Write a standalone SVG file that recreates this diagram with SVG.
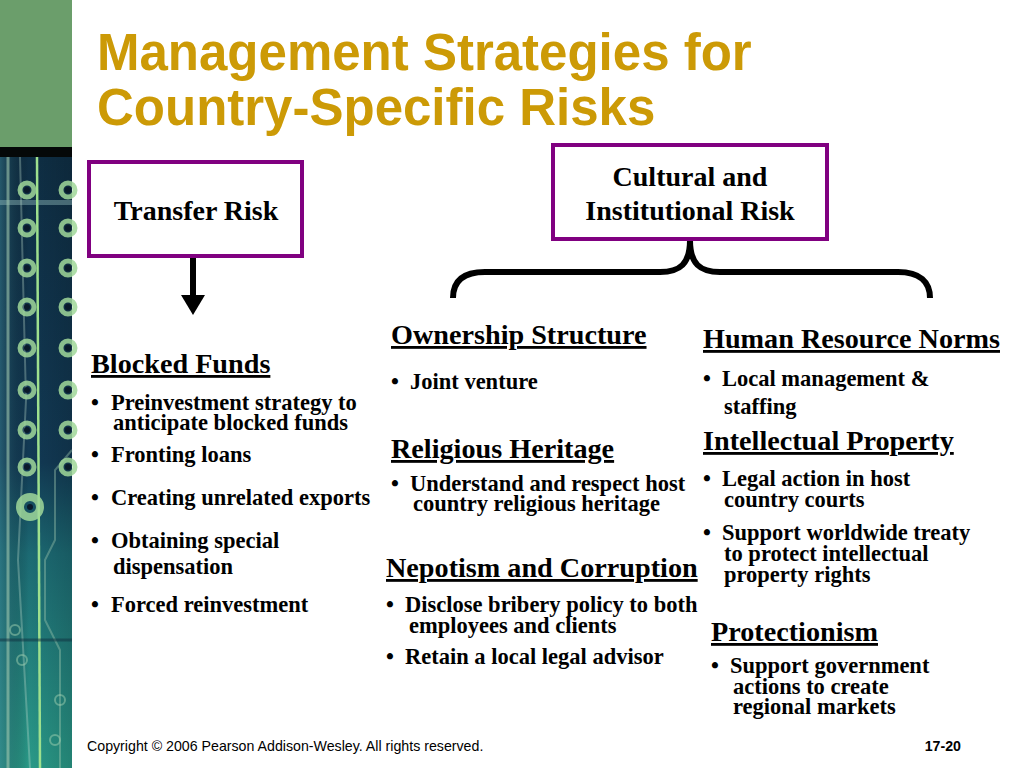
<svg xmlns="http://www.w3.org/2000/svg" width="1024" height="768" viewBox="0 0 1024 768">
<defs>
<linearGradient id="strip" x1="0" y1="0" x2="0" y2="1">
<stop offset="0" stop-color="#0f2f45"/>
<stop offset="0.5" stop-color="#123a55"/>
<stop offset="0.65" stop-color="#1c6a73"/>
<stop offset="1" stop-color="#2a9a88"/>
</linearGradient>
<linearGradient id="stripH" x1="0" y1="0" x2="1" y2="0">
<stop offset="0" stop-color="#3a7f8f" stop-opacity="0.5"/>
<stop offset="0.4" stop-color="#000" stop-opacity="0"/>
<stop offset="1" stop-color="#000" stop-opacity="0.15"/>
</linearGradient>
</defs>
<style>
.title{font-family:"Liberation Sans",Arial,sans-serif;font-weight:bold;font-size:51px;fill:#CC9A06}
.box{fill:#fff;stroke:#800080;stroke-width:4}
.lbl{font-family:"Liberation Serif","Times New Roman",serif;font-weight:bold;font-size:28px;fill:#000}
.hd{font-family:"Liberation Serif","Times New Roman",serif;font-weight:bold;font-size:28.2px;fill:#000;text-decoration:underline}
.bt{font-family:"Liberation Serif","Times New Roman",serif;font-weight:bold;font-size:22.5px;fill:#000}
.ft{font-family:"Liberation Sans",Arial,sans-serif;font-size:14.2px;fill:#000}
.ring{fill:none;stroke:#a0d89a;stroke-width:5;opacity:0.85}
.hole{fill:#0a1a2a}
.conn{fill:none;stroke:#000;stroke-width:6}
</style>
<rect width="1024" height="768" fill="#fff"/>
<!-- left decorative strip -->
<g id="strip-deco">
<rect x="0" y="0" width="72" height="148" fill="#6B9E6B"/>
<rect x="0" y="147" width="72" height="10" fill="#050808"/>
<rect x="0" y="157" width="72" height="611" fill="url(#strip)"/>
<rect x="0" y="157" width="72" height="611" fill="url(#stripH)"/>
<rect x="0" y="200" width="72" height="5" fill="#8fb8b8" opacity="0.45"/>
<line x1="8" y1="157" x2="8" y2="768" stroke="#9fc8b0" stroke-width="3" opacity="0.6"/>
<line x1="37" y1="157" x2="40" y2="768" stroke="#9ee08e" stroke-width="2.5"/>
<path d="M20 157 L26 400 L18 560 L30 768" stroke="#b8d8c8" stroke-width="2" fill="none" opacity="0.35"/>
<path d="M72 450 L55 470 L55 540 L45 560 L45 620 L60 650 L60 768" stroke="#a0c8b0" stroke-width="2" fill="none" opacity="0.4"/>
<path d="M0 640 L72 640" stroke="#103040" stroke-width="3" opacity="0.5"/>
<g class="ring">
<circle cx="27" cy="190" r="7"/><circle cx="68" cy="190" r="7"/>
<circle cx="27" cy="228" r="7"/><circle cx="68" cy="228" r="7"/>
<circle cx="27" cy="268" r="7"/><circle cx="68" cy="268" r="7"/>
<circle cx="27" cy="307" r="7"/><circle cx="68" cy="307" r="7"/>
<circle cx="27" cy="348" r="7"/><circle cx="68" cy="348" r="7"/>
<circle cx="27" cy="390" r="7"/><circle cx="68" cy="390" r="7"/>
<circle cx="27" cy="430" r="7"/><circle cx="68" cy="430" r="7"/>
<circle cx="27" cy="467" r="7"/><circle cx="68" cy="467" r="7"/>
<circle cx="30" cy="507" r="10" stroke-width="8"/>
</g>
<g class="hole">
<circle cx="27" cy="190" r="3"/><circle cx="68" cy="190" r="3"/>
<circle cx="27" cy="228" r="3"/><circle cx="68" cy="228" r="3"/>
<circle cx="27" cy="268" r="3"/><circle cx="68" cy="268" r="3"/>
<circle cx="27" cy="307" r="3"/><circle cx="68" cy="307" r="3"/>
<circle cx="27" cy="348" r="3"/><circle cx="68" cy="348" r="3"/>
<circle cx="27" cy="390" r="3"/><circle cx="68" cy="390" r="3"/>
<circle cx="27" cy="430" r="3"/><circle cx="68" cy="430" r="3"/>
<circle cx="27" cy="467" r="3"/><circle cx="68" cy="467" r="3"/>
<circle cx="30" cy="507" r="3"/>
</g>
<g fill="none" stroke="#9fd0b0" stroke-width="2" opacity="0.5">
<circle cx="15" cy="630" r="5"/><circle cx="22" cy="660" r="5"/><circle cx="60" cy="700" r="5"/><circle cx="55" cy="740" r="5"/>
</g>
</g>
<!-- title -->
<g id="title">
<text class="title" x="97" y="70">Management Strategies for</text>
<text class="title" x="97" y="125">Country-Specific Risks</text>
</g>
<!-- connectors -->
<g id="connectors">
<line x1="193" y1="256" x2="193" y2="298" stroke="#000" stroke-width="6"/>
<polygon points="181,295 205,295 193,315" fill="#000"/>
<path class="conn" d="M453 298 C453 282 462 272 485 272 L660 272 C680 272 690 264 690 240 C690 264 700 272 720 272 L898 272 C920 272 930 282 930 298"/>
</g>
<!-- nodes -->
<g id="transfer-risk">
<rect class="box" x="89" y="162" width="213" height="94"/>
<text class="lbl" x="196" y="220" text-anchor="middle">Transfer Risk</text>
</g>
<g id="cultural-risk">
<rect class="box" x="553" y="145" width="274" height="94"/>
<text class="lbl" x="690" y="186" text-anchor="middle">Cultural and</text>
<text class="lbl" x="690" y="220" text-anchor="middle">Institutional Risk</text>
</g>
<g id="blocked-funds">
<text class="hd" x="91" y="373">Blocked Funds</text>
<text class="bt" x="91" y="410">•</text><text class="bt" x="111" y="410">Preinvestment strategy to</text>
<text class="bt" x="113" y="430">anticipate blocked funds</text>
<text class="bt" x="91" y="462">•</text><text class="bt" x="111" y="462">Fronting loans</text>
<text class="bt" x="91" y="505">•</text><text class="bt" x="111" y="505">Creating unrelated exports</text>
<text class="bt" x="91" y="548">•</text><text class="bt" x="111" y="548">Obtaining special</text>
<text class="bt" x="113" y="574">dispensation</text>
<text class="bt" x="91" y="612">•</text><text class="bt" x="111" y="612">Forced reinvestment</text>
</g>
<g id="ownership-structure">
<text class="hd" x="391" y="344">Ownership Structure</text>
<text class="bt" x="391" y="389">•</text><text class="bt" x="410" y="389">Joint venture</text>
</g>
<g id="religious-heritage">
<text class="hd" x="391" y="458">Religious Heritage</text>
<text class="bt" x="391" y="491">•</text><text class="bt" x="410" y="491">Understand and respect host</text>
<text class="bt" x="413" y="511">country religious heritage</text>
</g>
<g id="nepotism-corruption">
<text class="hd" x="386" y="577">Nepotism and Corruption</text>
<text class="bt" x="386" y="612">•</text><text class="bt" x="405" y="612">Disclose bribery policy to both</text>
<text class="bt" x="409" y="633">employees and clients</text>
<text class="bt" x="386" y="664">•</text><text class="bt" x="405" y="664">Retain a local legal advisor</text>
</g>
<g id="human-resource-norms">
<text class="hd" x="703" y="348">Human Resource Norms</text>
<text class="bt" x="703" y="386">•</text><text class="bt" x="722" y="386">Local management &amp;</text>
<text class="bt" x="724" y="414">staffing</text>
</g>
<g id="intellectual-property">
<text class="hd" x="703" y="450">Intellectual Property</text>
<text class="bt" x="703" y="486">•</text><text class="bt" x="722" y="486">Legal action in host</text>
<text class="bt" x="724" y="507">country courts</text>
<text class="bt" x="703" y="540">•</text><text class="bt" x="722" y="540">Support worldwide treaty</text>
<text class="bt" x="724" y="561">to protect intellectual</text>
<text class="bt" x="724" y="582">property rights</text>
</g>
<g id="protectionism">
<text class="hd" x="711" y="641">Protectionism</text>
<text class="bt" x="711" y="673">•</text><text class="bt" x="730" y="673">Support government</text>
<text class="bt" x="733" y="694">actions to create</text>
<text class="bt" x="733" y="714">regional markets</text>
</g>
<g id="footer">
<text class="ft" x="87" y="751">Copyright © 2006 Pearson Addison-Wesley. All rights reserved.</text>
<text class="ft" x="961" y="751" text-anchor="end" font-weight="bold">17-20</text>
</g>
</svg>
